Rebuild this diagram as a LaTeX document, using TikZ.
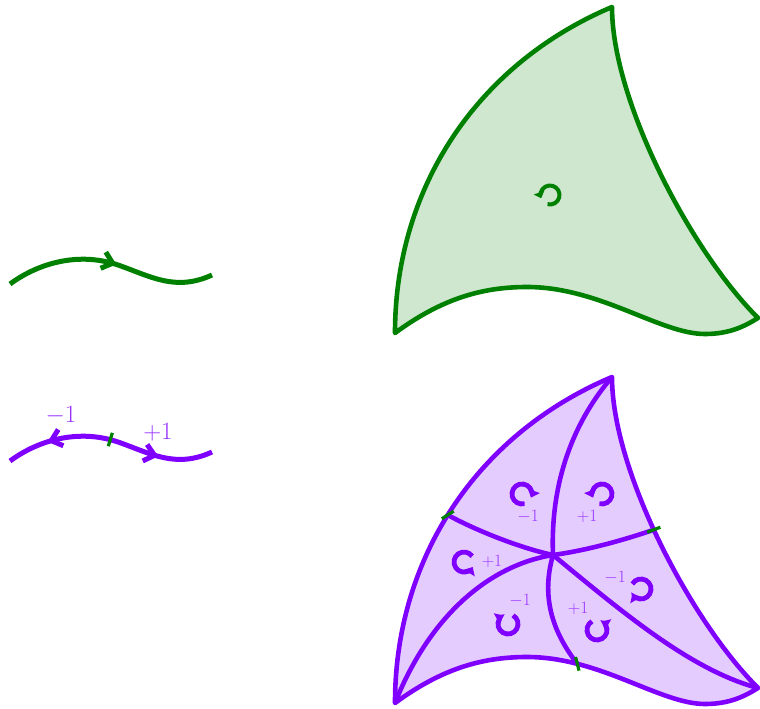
\documentclass[tikz,border=0pt]{standalone}
\usetikzlibrary{arrows.meta,decorations.markings,calc}
\definecolor{grn}{RGB}{0,128,0}
\definecolor{pur}{RGB}{127,0,255}
\begin{document}
\begin{tikzpicture}[x=1pt,y=1pt,
  edge/.style={line width=4.6pt, line join=round},
  curv/.style={line width=5pt},
  tk/.style={draw=grn, line width=3.2pt},
  rot/.style={line width=4.8pt, -{Triangle[length=7pt,width=12.5pt]}},
  grot/.style={line width=4pt, -{Triangle[length=6pt,width=11pt]}},
  biglbl/.style={text=pur!80, font=\fontsize{24}{28}\selectfont, inner sep=0pt},
  smlbl/.style={text=pur!80, font=\fontsize{17}{20}\selectfont, inner sep=0pt},
  barb/.tip={Straight Barb[length=10pt,width=17pt]}
]
\useasboundingbox (0,0) rectangle (760,-709);

% ---------- top left green curve ----------
\draw[curv, grn, decoration={markings, mark=at position 0.53 with {\arrow{barb}}}, postaction={decorate}]
  (10,-284) coordinate (g0) .. controls (40,-262) and (80,-252) .. (118,-265)
  .. controls (150,-276) and (175,-292) .. (212,-275) coordinate (g1);

% ---------- purple curve ----------
\begin{scope}[yshift=-177pt]
\draw[curv, pur, decoration={markings,
    mark=at position 0.2 with {\arrowreversed{barb}},
    mark=at position 0.74 with {\arrow{barb}},
    mark=at position 0.5 with {\draw[grn, line width=3.2pt] (0,-7pt) -- (0,7pt);}},
    postaction={decorate}]
  (10,-284) coordinate (q0) .. controls (40,-262) and (80,-252) .. (118,-265)
  .. controls (150,-276) and (175,-292) .. (212,-275) coordinate (q1);
\end{scope}
\node[biglbl] (lm) at (61,-416) {$-1$};
\node[biglbl] (lp) at (158,-432) {$+1$};

% ---------- green region ----------
\coordinate (gA) at (395,-333);
\coordinate (gT) at (612,-7);
\coordinate (gR) at (758,-318);
\filldraw[edge, draw=grn, fill=grn!19]
  (gA) .. controls (395,-190) and (475,-65) .. (gT)
  .. controls (612,-100) and (690,-250) .. (gR)
  .. controls (745,-326) and (730,-334) .. (705,-334)
  .. controls (660,-334) and (600,-287) .. (527,-287)
  .. controls (480,-287) and (440,-300) .. cycle;
\draw[grot, grn] (550,-195) ++(255:9.5) arc[start angle=255, delta angle=305, radius=9.5];

% ---------- purple region ----------
\begin{scope}[yshift=-370pt]
\coordinate (pA) at (395,-333);
\coordinate (pT) at (612,-7);
\coordinate (pR) at (758,-318);
\coordinate (pC) at (553,-185);
\filldraw[edge, draw=pur, fill=pur!20]
  (pA) .. controls (395,-190) and (475,-65) .. coordinate[pos=0.48] (pL) (pT)
  .. controls (612,-100) and (690,-250) .. coordinate[pos=0.465] (pRt) (pR)
  .. controls (745,-326) and (730,-334) .. (705,-334)
  .. controls (660,-334) and (600,-287) .. coordinate[pos=0.76] (pB) (527,-287)
  .. controls (480,-287) and (440,-300) .. cycle;
\draw[edge, pur] (pC) .. controls (550,-110) and (575,-50) .. (pT);
\draw[edge, pur] (pC) .. controls (520,-178) and (475,-160) .. (pL);
\draw[edge, pur] (pC) .. controls (590,-180) and (630,-168) .. (pRt);
\draw[edge, pur] (pC) .. controls (490,-195) and (430,-245) .. (pA);
\draw[edge, pur] (pC) .. controls (540,-230) and (555,-265) .. (pB);
\draw[edge, pur] (pC) .. controls (620,-240) and (690,-300) .. (pR);
\draw[tk] ($(pL)+(5.9,3.8)$) -- ($(pL)-(5.9,3.8)$);
\draw[tk] ($(pRt)+(6.6,2.5)$) -- ($(pRt)-(6.6,2.5)$);
\draw[tk] ($(pB)+(1.7,-6.8)$) -- ($(pB)-(1.7,-6.8)$);
\end{scope}

% rotation marks
\draw[rot, pur] (522,-494) ++(285:10) arc[start angle=285, delta angle=-305, radius=10];
\draw[rot, pur] (602,-494) ++(255:10) arc[start angle=255, delta angle=305, radius=10];
\draw[rot, pur] (464,-562) ++(35:10) arc[start angle=35, delta angle=295, radius=10];
\draw[rot, pur] (508,-624) ++(60:10) arc[start angle=60, delta angle=-300, radius=10];
\draw[rot, pur] (597,-630) ++(120:10) arc[start angle=120, delta angle=300, radius=10];
\draw[rot, pur] (641,-589) ++(150:10) arc[start angle=150, delta angle=-300, radius=10];

\node[smlbl] (s1) at (528,-517) {$-1$};
\node[smlbl] (s2) at (587,-516) {$+1$};
\node[smlbl] (s3) at (492,-561) {$+1$};
\node[smlbl] (s4) at (520,-601) {$-1$};
\node[smlbl] (s5) at (578,-608) {$+1$};
\node[smlbl] (s6) at (615,-578) {$-1$};
\end{tikzpicture}
\end{document}
